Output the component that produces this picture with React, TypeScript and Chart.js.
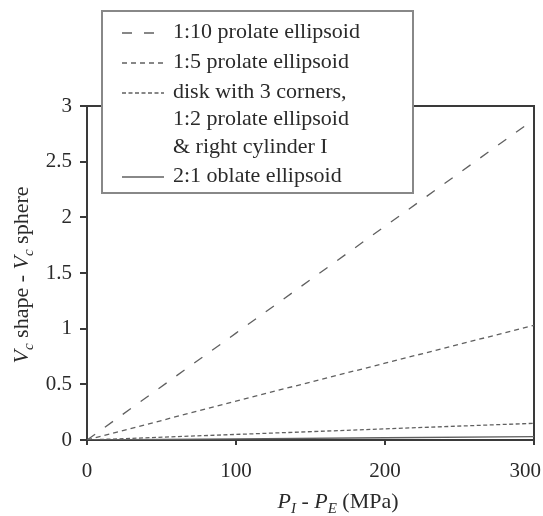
import React, { useEffect, useRef } from "react";
import { Chart, registerables } from "chart.js";

Chart.register(...registerables);

// ---- data ----
const pressures = [0, 100, 200, 300]; // P_I - P_E (MPa)
const prolate110 = [0, 0.96, 1.92, 2.88];
const prolate15 = [0, 0.35, 0.69, 1.03];
const diskGroup = [0, 0.05, 0.1, 0.15];
const oblate21 = [0, 0.01, 0.02, 0.03];
const seriesLabels = [
  ["1:10 prolate ellipsoid"],
  ["1:5 prolate ellipsoid"],
  ["disk with 3 corners,", "1:2 prolate ellipsoid", "& right cylinder I"],
  ["2:1 oblate ellipsoid"],
];
const seriesDash = [[10, 12], [5, 4], [4, 2.5], []];
const seriesValues = [prolate110, prolate15, diskGroup, oblate21];
const xTickValues = [0, 100, 200, 300];
const yTickStep = 0.5;

const FONT = '"Liberation Serif", "Times New Roman", serif';
const LINE_COLOR = "#606060";
const AXIS_COLOR = "#3a3a3a";
const TEXT_COLOR = "#2a2a2a";

type Run = { t: string; italic?: boolean; sub?: boolean };

function drawRuns(ctx: CanvasRenderingContext2D, runs: Run[], cx: number, baseY: number) {
  const fontFor = (r: Run) => `${r.italic ? "italic " : ""}${r.sub ? 15 : 22}px ${FONT}`;
  let total = 0;
  for (const r of runs) {
    ctx.font = fontFor(r);
    total += ctx.measureText(r.t).width;
  }
  let x = cx - total / 2;
  ctx.textBaseline = "alphabetic";
  ctx.textAlign = "left";
  for (const r of runs) {
    ctx.font = fontFor(r);
    ctx.fillText(r.t, x, r.sub ? baseY + 5 : baseY);
    x += ctx.measureText(r.t).width;
  }
}

const decorPlugin = {
  id: "decor",
  beforeDatasetsDraw(chart: any) {
    const { ctx, chartArea: a } = chart;
    ctx.save();
    ctx.strokeStyle = AXIS_COLOR;
    ctx.lineWidth = 2;
    ctx.beginPath();
    ctx.moveTo(a.left - 7, a.top);
    ctx.lineTo(a.right, a.top);
    ctx.lineTo(a.right, a.bottom + 4);
    ctx.stroke();
    ctx.restore();
  },
  afterDraw(chart: any) {
    const { ctx } = chart;
    const xs = chart.scales.x;
    ctx.save();
    ctx.fillStyle = TEXT_COLOR;
    // x tick labels
    ctx.font = `21px ${FONT}`;
    ctx.textBaseline = "middle";
    ctx.textAlign = "left";
    for (const v of xTickValues) {
      const px = xs.getPixelForValue(v);
      const w = ctx.measureText(String(v)).width;
      const left = Math.min(px - w / 2, chart.width - 2 - w);
      ctx.fillText(String(v), left, 471);
    }
    // x title
    drawRuns(
      ctx,
      [
        { t: "P", italic: true },
        { t: "I", italic: true, sub: true },
        { t: " - " },
        { t: "P", italic: true },
        { t: "E", italic: true, sub: true },
        { t: " (MPa)" },
      ],
      338,
      508
    );
    // y title
    ctx.save();
    ctx.translate(28, 275);
    ctx.rotate(-Math.PI / 2);
    drawRuns(
      ctx,
      [
        { t: "V", italic: true },
        { t: "c", italic: true, sub: true },
        { t: " shape - " },
        { t: "V", italic: true },
        { t: "c", italic: true, sub: true },
        { t: " sphere" },
      ],
      0,
      0
    );
    ctx.restore();

    // legend
    const bx = 102, by = 11, bw = 311, bh = 182;
    ctx.fillStyle = "#fff";
    ctx.fillRect(bx, by, bw, bh);
    ctx.strokeStyle = "#888";
    ctx.lineWidth = 2;
    ctx.strokeRect(bx, by, bw, bh);
    let y = 32;
    chart.data.datasets.forEach((ds: any) => {
      const lines: string[] = String(ds.label).split("\n");
      ctx.strokeStyle = LINE_COLOR;
      ctx.lineWidth = 1.3;
      ctx.setLineDash(ds.borderDash || []);
      ctx.beginPath();
      ctx.moveTo(122, y + 1);
      ctx.lineTo(164, y + 1);
      ctx.stroke();
      ctx.setLineDash([]);
      ctx.fillStyle = TEXT_COLOR;
      ctx.font = `22px ${FONT}`;
      ctx.textBaseline = "middle";
      ctx.textAlign = "left";
      lines.forEach((ln, j) => ctx.fillText(ln, 173, y + j * 27.5));
      y += lines.length * 27 + 3;
    });
    ctx.restore();
  },
};

export default function App() {
  const ref = useRef<HTMLCanvasElement | null>(null);
  useEffect(() => {
    if (!ref.current) return;
    const chart = new Chart(ref.current, {
      type: "line",
      data: {
        datasets: seriesValues.map((vals, i) => ({
          label: seriesLabels[i].join("\n"),
          data: vals.map((v, k) => ({ x: pressures[k], y: v })),
          borderColor: LINE_COLOR,
          borderWidth: 1.3,
          borderDash: seriesDash[i],
          pointRadius: 0,
          fill: false,
          tension: 0,
        })),
      },
      options: {
        animation: false,
        responsive: false,
        layout: { padding: { top: 106, right: 9, left: 0, bottom: 0 } },
        plugins: { legend: { display: false }, tooltip: { enabled: false } },
        scales: {
          x: {
            type: "linear",
            min: 0,
            max: 300,
            afterBuildTicks: (s: any) => {
              s.ticks = xTickValues.map((v) => ({ value: v }));
            },
            ticks: { color: "rgba(0,0,0,0)", font: { size: 21, family: FONT } },
            grid: { drawOnChartArea: false, drawTicks: true, tickLength: 5, color: AXIS_COLOR, lineWidth: 2 },
            border: { display: true, color: AXIS_COLOR, width: 2 },
            afterFit: (s: any) => {
              s.height = 76;
              s.paddingLeft = 0;
              s.paddingRight = 0;
            },
          },
          y: {
            min: 0,
            max: 3,
            ticks: {
              stepSize: yTickStep,
              color: TEXT_COLOR,
              padding: 8,
              font: { size: 21, family: FONT },
              callback: (v: any) => String(Number(v)),
            },
            grid: { drawOnChartArea: false, drawTicks: true, tickLength: 7, color: AXIS_COLOR, lineWidth: 2 },
            border: { display: true, color: AXIS_COLOR, width: 2 },
            afterFit: (s: any) => {
              s.width = 87;
              s.paddingTop = 0;
              s.paddingBottom = 0;
            },
          },
        },
      },
      plugins: [decorPlugin],
    } as any);
    return () => chart.destroy();
  }, []);
  return (
    <canvas
      ref={ref}
      width={543}
      height={516}
      style={{ position: "absolute", left: 0, top: 0, display: "block" }}
    />
  );
}
